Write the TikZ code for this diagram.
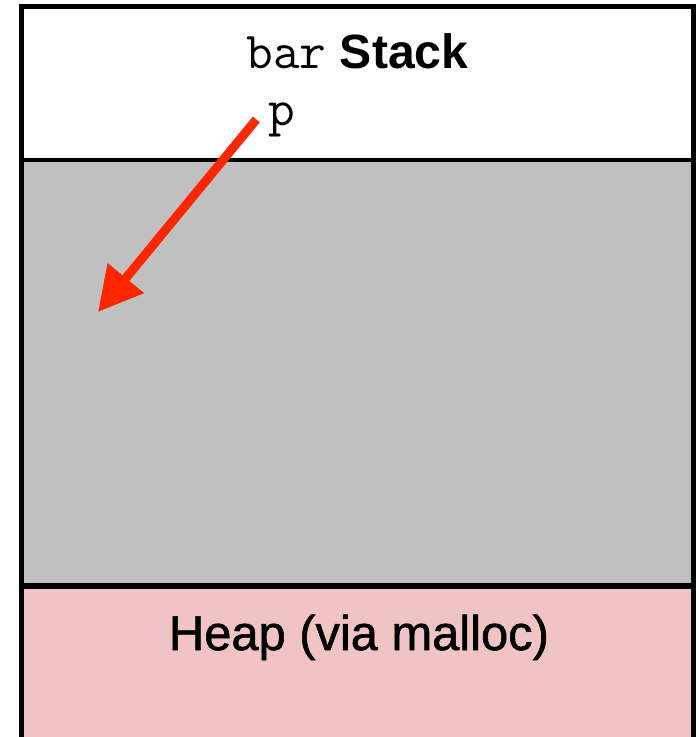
\documentclass[tikz,border=0pt]{standalone}
\usepackage{fontspec}
\setmainfont{Liberation Sans}
\newfontfamily\mediumfont{Liberation Sans}[FakeBold=1.2]
\usetikzlibrary{arrows.meta,
                positioning}
\definecolor{stackgray}{HTML}{C0C0C0}
\definecolor{heappink}{HTML}{F0C4C4}
\definecolor{ptrred}{HTML}{FF2600}
\newcommand{\code}[1]{{\fontsize{29.5}{32}\selectfont\ttfamily #1}}
\tikzset{
        region/.style={inner sep=0pt, outer sep=0pt, minimum width=13.44cm},
        big/.style={font=\fontsize{27.4}{30}\selectfont, anchor=base},
        ptr/.style={-{Triangle[length=25pt, width=25.5pt]}, line width=5.1pt,
                    ptrred},
 }
\begin{document}
\begin{tikzpicture}[x=0.02cm, y=-0.02cm]
    \useasboundingbox (0,0) rectangle (699,737);

    \node[region, fill=white, minimum height=3.07cm, anchor=north] (stack) at (357.5,6.5) {};
    \node[region, fill=stackgray, minimum height=8.52cm, below=0cm of stack] (frame) {};
    \node[region, fill=heappink, minimum height=3.48cm, below=0cm of frame] (heap) {};

    \draw[line width=2.8pt] (heap.south west) -- (stack.north west)
        -- (stack.north east) -- (heap.south east);
    \draw[line width=2pt] (stack.south west) -- (stack.south east);
    \draw[line width=3.4pt] (frame.south west) -- (frame.south east);

    \node[big] (title) at (357.5,68) {\code{bar} \textbf{Stack}};
    \node[big, inner sep=0pt, outer sep=7pt] (pvar) at (282,125) {\code{p}};
    \node[big, font=\fontsize{27.8}{30}\selectfont\mediumfont] (heaplbl) at (359,650) {Heap (via malloc)};

    \coordinate (target) at (98,312);
    \draw[ptr] (pvar.west) -- (target);
\end{tikzpicture}
\end{document}
